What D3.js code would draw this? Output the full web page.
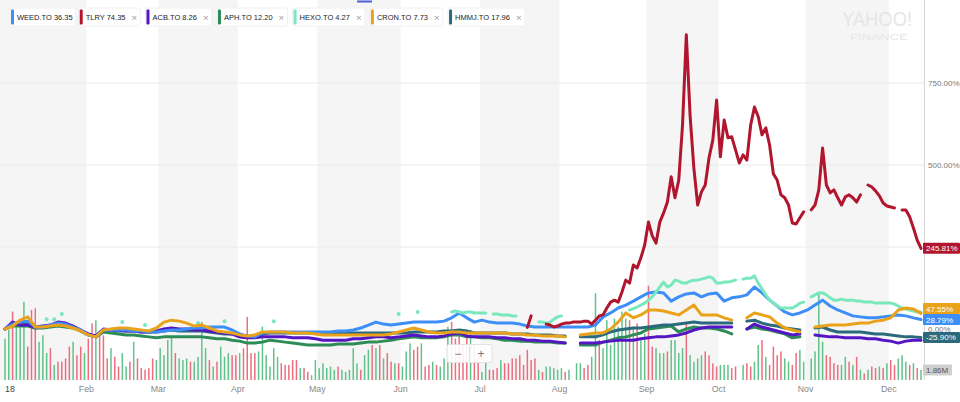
<!DOCTYPE html>
<html><head><meta charset="utf-8">
<script src="https://cdn.jsdelivr.net/npm/d3@7"></script>
<style>
html,body{margin:0;padding:0;background:#fff;}
svg{display:block;font-family:"Liberation Sans",Arial,Helvetica,sans-serif;}
</style></head><body>
<svg id="c" width="960" height="402"></svg>
<script>
// ---------- DATA ----------
const startDate = "2018-01-02", endDate = "2018-12-13";
const holidays = ["2018-01-01","2018-02-19","2018-03-30","2018-05-21","2018-07-02","2018-09-03"];
const monthLabels = ["18","Feb","Mar","Apr","May","Jun","Jul","Aug","Sep","Oct","Nov","Dec"];
const legendLabels = ["WEED.TO 36.35","TLRY 74.35","ACB.TO 8.26","APH.TO 12.20","HEXO.TO 4.27","CRON.TO 7.73","HMMJ.TO 17.96"];
const seriesColors = ["#3e8ef7","#b1162e","#5615c4","#2d8c55","#79e8bd","#e9a21a","#2b6a7d"];
const gridTicks = [250,500,750];
const axisLabelTicks = [0,500,750];

// % change, sampled every 2nd trading day (index 0,2,4,...,242)
const weedValues = [0,15,21,24,6,6,12,18,15,6,
-3,-18,-24,-3,-3,-3,-3,-6,-6,-9,
-9,-6,-3,-3,0,3,3,6,6,6,
-3,-15,-21,-24,-12,-9,-9,-9,-9,-9,
-9,-9,-9,-9,-6,-6,-3,3,12,21,
15,12,15,18,21,21,21,21,24,34,
49,34,21,27,21,18,18,18,15,9,
6,6,6,6,6,6,6,6,12,37,
49,64,73,85,98,110,113,110,85,98,
107,110,98,107,110,85,95,98,104,128,
110,88,70,52,43,49,58,73,88,70,
58,49,40,37,34,34,37,40,43,40,
34,28.79];
const acbValues = [0,21,12,12,6,9,12,21,18,9,
-3,-15,-21,0,-3,-3,-6,-6,-9,-9,
-6,0,3,0,0,-3,-3,-6,-9,-12,
-15,-24,-27,-27,-24,-24,-24,-24,-27,-27,
-27,-30,-34,-34,-34,-34,-30,-30,-27,-24,
-24,-27,-24,-21,-18,-21,-24,-24,-21,-15,
-12,-21,-24,-24,-24,-27,-27,-30,-30,-34,
-34,-37,-37,-40,-43,null,-43,-43,-43,-40,
-37,-34,-34,-34,-30,-27,-24,-24,-21,-18,
-12,-3,3,6,6,6,6,null,0,15,
6,0,-6,-12,-18,-15,null,-18,-21,-24,
-24,-27,-27,-27,-30,-30,-34,-37,-43,-37,
-34,-34];
const aphValues = [0,9,9,9,3,3,6,9,6,3,
-6,-18,-24,-9,-12,-15,-18,-18,-21,-24,
-27,-24,-24,-24,-24,-24,-24,-27,-30,-30,
-34,-37,-43,-43,-40,-34,-37,-40,-43,-46,
-49,-49,-49,-49,-46,-46,-46,-43,-40,-40,
-37,-34,-30,-27,-24,-27,-27,-27,-24,-18,
-18,-24,-24,-27,-27,-30,-34,-34,-37,-37,
-40,-40,-40,-43,-43,null,-49,-49,-49,-40,
-34,-27,-24,-18,-12,0,3,6,9,-9,
0,6,3,3,0,-6,-15,null,0,6,
0,-3,-9,-15,-27,-24,null,null,null,null,
null,null,null,null,null,null,null,null,null,null,
null,null];
const cronValues = [0,9,27,37,6,6,9,12,9,3,
-6,-18,-24,-3,0,3,3,0,-3,-6,
3,21,27,24,18,9,12,3,-6,-9,
-12,-18,-21,-18,-9,-9,-9,-9,-12,-12,
-12,-15,-18,-18,-18,-18,-18,-18,-18,-18,
-18,-15,-9,-3,3,-3,-9,-12,-12,-9,
-9,-12,-12,-12,-12,-12,-12,-15,-15,-18,
-18,-21,-21,-21,-24,null,-18,-15,-12,-12,
0,21,49,34,43,58,58,55,49,43,
58,73,43,43,43,34,27,null,34,49,
43,37,18,3,-3,-9,null,6,9,12,
12,12,15,18,18,24,27,34,58,64,
61,47.55];
const hmmjValues = [0,15,12,15,3,6,9,15,12,6,
-6,-18,-24,-3,-3,-6,-6,-6,-9,-9,
-9,-6,-3,-6,-6,-6,-6,-9,-12,-15,
-15,-24,-27,-24,-15,-12,-12,-12,-12,-12,
-12,-12,-12,-12,-12,-12,-12,-12,-12,-12,
-12,-12,-12,-12,-9,-9,-9,-9,-6,-6,
-3,-6,-12,-12,-12,-12,-12,-15,-15,-15,
-18,-18,-18,-21,-21,null,-24,-24,-24,-18,
-9,-3,0,3,3,6,9,12,12,15,
18,21,18,18,18,18,18,null,24,27,
18,12,9,3,0,-3,null,3,6,-3,
-9,-9,-9,-9,-12,-15,-15,-18,-21,-24,
-24,-25.9];
// TLRY: daily from trading-day index 138 (listing day)
const tlryStart = 138;
const tlryValues = [5,40,null,null,null,
15,12,6,9,15,18,18,21,21,21,
24,24,15,27,40,43,64,82,88,82,
113,149,140,195,186,217,256,326,284,262,
326,354,387,464,400,454,622,897,650,490,
378,418,439,522,576,698,525,637,583,586,
546,506,531,515,622,677,647,592,613,561,
473,454,409,400,378,323,320,339,357,null,
363,378,424,552,439,415,424,400,378,403,
409,400,387,409,null,439,433,421,406,384,
375,372,369,null,363,363,342,308,271,245.81];
// HEXO: sparse runs of consecutive trading days
const hexoStarts = [11,13,15,31,37,51,58,71,104,109,118,129,141,165,195,213];
const hexoRuns = [[30],[30],[46],[21],[12],[18],[24],[24],[46],[52],
 [52,55,52,49,52,52,49,49,49,49],
 [46,46,43,43,43,40,40],
 [21,21,18,21,30,37,40],
 [58,62,67,73,79,88,98,113,128,143,128,134,149,146,140,140,146,149,149,152,155,159,155,140,140,143,143,146,149],
 [152,155,155,162,140,122,104,88,79,70,64,64,64,64,70,79,82],
 [98,104,110,110,104,95,88,88,91,88,88,88,85,85,82,82,82,79,79,79,79,79,76,70,64,61,58,55,52,52]];
// Volume (millions), daily
const volumeValues = [7.7,9.3,12.7,10.2,10.5,14.5,6.2,13,13.3,7.1,
8.3,5,5.9,2.8,3.4,3.4,4,6.2,7.1,4.6,
6.2,5,7.7,10.5,11.1,8.6,8.3,4,5.9,4.3,
2.5,5,2.5,3.4,7.1,4,2.2,1.9,2.2,4,
3.7,5.9,4.6,7.4,8,5,4,3.7,4,3.4,
3.4,4.3,10.8,5.9,3.7,2.5,3.4,6.2,4.3,5,
4.6,4.6,5,5.9,11.7,5,5,5.3,9.9,4.6,
2.5,5.9,4.3,3.1,2.8,2.8,3.7,3.7,2.2,2.2,
1.5,0.9,3.7,2.2,3.1,2.2,2.5,1.9,2.5,1.9,
1.5,1.9,5.9,3.1,1.9,4.6,5.6,6.5,5.9,6.5,
4,5,3.4,3.1,3.1,2.5,5.3,6.8,5.6,6.2,
6.8,2.5,2.8,3.4,2.8,2.5,4,9.9,
10.8,7.7,8.6,6.5,8.6,9.3,6.5,4.3,1.5,3.4,
1.9,1.9,2.2,3.7,3.1,3.1,4,4,4.6,2.8,
5.6,3.7,4,1.9,1.5,2.5,2.5,2.2,1.9,2.2,
1.5,1.9,null,3.1,3.1,2.2,2.8,4.3,16.1,7.4,
5.9,11.1,6.5,11.4,9.9,12.7,11.4,11.1,9.9,10.5,
7.4,8.6,17.5,6.2,5.9,5,5,5.3,7.4,7.4,
5,5.9,10.5,4.6,3.4,4,4.6,5.3,4.6,3.1,
2.5,2.8,2.8,2.8,2.2,2.5,null,2.8,3.1,2.5,
3.4,6.5,7.4,4.3,2.8,6.2,4.6,5.3,4,3.4,
2.8,5,5.6,3.4,null,4,5.3,16.1,7.1,4.6,
4.3,3.1,2.8,2.8,4.3,3.4,2.8,4.3,1.9,1.2,
1.9,2.5,2.2,2.5,2.2,3.1,3.7,2.8,4,4.6,
3.4,2.8,3.1,2.2,1.86];
const volumeUpDown = "ggrgggrrrgggrgrrrrgrrgrrgrrrgrrggrgrrrrrgggggrgggrggggrgrgggrrgrrrrggggggrrrrrgrrgggggggrgggggrggrgrgrrgrgggrrgrrgrggg" +
  "rrrrrgrrggrrrgrrrrrrrrrgrgggggrggggrrggrgggggggrgrggrrgggrggggrggggrrrrgggrrggrrggrgrrrrggrrgggggggrrrrggrgrgrgrrgrgrrgggrgrg";
const endTags = [
  {series:1, value:245.81, text:"245.81%"},
  {series:5, value:47.55, text:"47.55%"},
  {series:0, value:28.79, text:"28.79%"},
  {series:6, value:-25.90, text:"-25.90%"}
];
const lastVolumeText = "1.86M";

// ---------- CHART ----------
const svg = d3.select("#c");
const fmt = d3.utcFormat("%Y-%m-%d");
const days = d3.utcDays(new Date(startDate+"T00:00:00Z"), new Date(endDate+"T12:00:00Z"))
  .filter(d => d.getUTCDay() % 6 !== 0 && !holidays.includes(fmt(d)));
const N = days.length;

const x = d3.scaleLinear().domain([0, N-1]).range([5, 921]);
const y = d3.scaleLinear().domain([0, 750]).range([329, 83]);
const yv = d3.scaleLinear().domain([0, 18]).range([380, 283]);
const axisX = 924, baseY = 380;

// month bands
const monthStarts = [];
days.forEach((d,i) => { if (i===0 || d.getUTCMonth() !== days[i-1].getUTCMonth()) monthStarts.push({i, m:d.getUTCMonth()}); });
const bands = svg.append("g");
monthStarts.forEach((ms,j) => {
  const x0 = j===0 ? 0 : x(ms.i-0.5);
  const x1 = j+1 < monthStarts.length ? x(monthStarts[j+1].i-0.5) : axisX;
  if (ms.m % 2 === 0) bands.append("rect").attr("x",x0).attr("y",0).attr("width",x1-x0).attr("height",baseY).attr("fill","#f5f5f5");
});

// watermark
svg.append("text").attr("x",842).attr("y",26).attr("font-size",21).attr("fill","#e6e6e6")
  .attr("textLength",70).attr("lengthAdjust","spacingAndGlyphs").text("YAHOO!");
svg.append("text").attr("x",850).attr("y",40).attr("font-size",9.5).attr("fill","#e6e6e6")
  .attr("textLength",58).attr("lengthAdjust","spacingAndGlyphs").text("FINANCE");

// gridlines
svg.append("g").selectAll("line").data(gridTicks).join("line")
  .attr("x1",0).attr("x2",axisX).attr("y1",d=>y(d)).attr("y2",d=>y(d))
  .attr("stroke","#ebebeb").attr("stroke-width",1);

// right axis line
svg.append("line").attr("x1",axisX+0.5).attr("x2",axisX+0.5).attr("y1",0).attr("y2",baseY).attr("stroke","#d6d6d6");

// y axis labels
const yAxis = svg.append("g").attr("transform",`translate(${axisX+3},0)`)
  .call(d3.axisRight(y).tickValues(axisLabelTicks).tickSize(0).tickPadding(1).tickFormat(d => d3.format(".2f")(d)+"%"));
yAxis.select(".domain").remove();
yAxis.selectAll("text").attr("font-size",8).attr("fill","#777").attr("font-family","Liberation Sans, Arial, sans-serif");

// month labels
svg.append("g").selectAll("text").data(monthStarts).join("text")
  .attr("x",(d,j)=> j===0 ? 5 : x(d.i-0.5))
  .attr("y",392).attr("text-anchor",(d,j)=> j===0 ? "start":"middle")
  .attr("font-size",8.8).attr("fill",(d,j)=> j===0 ? "#444":"#888")
  .text((d,j)=>monthLabels[j]);

// volume bars
const vol = volumeValues.map((v,i)=>({i, v, up: volumeUpDown[i] !== "r"})).filter(d=>d.v!=null);
svg.append("g").selectAll("rect").data(vol).join("rect")
  .attr("x",d=>x(d.i)-0.75).attr("width",1.5)
  .attr("y",d=>yv(d.v)).attr("height",d=>baseY-yv(d.v))
  .attr("fill",d=>d.up ? "#62c28b" : "#ec6e7e");

// lines
const line = d3.line().defined(d=>d.v!=null).x(d=>x(d.i)).y(d=>y(d.v));
const even = arr => arr.map((v,k)=>({i:2*k, v}));
const hexoDaily = d3.range(N).map(i=>({i, v:null}));
hexoStarts.forEach((s,r)=>hexoRuns[r].forEach((v,j)=>{ hexoDaily[s+j].v = v; }));
const tlryDaily = tlryValues.map((v,j)=>({i:tlryStart+j, v}));

const drawOrder = [
  {data: even(aphValues), c: seriesColors[3]},
  {data: even(hmmjValues), c: seriesColors[6]},
  {data: even(acbValues), c: seriesColors[2]},
  {data: even(weedValues), c: seriesColors[0]},
  {data: hexoDaily, c: seriesColors[4], dots:true},
  {data: even(cronValues), c: seriesColors[5]},
  {data: tlryDaily, c: seriesColors[1]}
];
const lg = svg.append("g");
drawOrder.forEach(s => {
  lg.append("path").datum(s.data).attr("d",line).attr("fill","none")
    .attr("stroke",s.c).attr("stroke-width",3).attr("stroke-linejoin","round").attr("stroke-linecap","round");
  if (s.dots) {
    const iso = s.data.filter((d,k)=>d.v!=null && (k===0 || s.data[k-1].v==null) && (k===s.data.length-1 || s.data[k+1].v==null));
    lg.selectAll(null).data(iso).join("circle").attr("cx",d=>x(d.i)).attr("cy",d=>y(d.v)).attr("r",2).attr("fill",s.c);
  }
});

// end tags (stacked so that neighbouring tags do not cover each other)
const tags = svg.append("g").attr("font-size",8);
const tagH = 11;
const placed = endTags.map(t => ({...t, yy: y(t.value)})).sort((a,b)=>b.yy-a.yy);
for (let k=1;k<placed.length;k++) {
  if (placed[k-1].yy - placed[k].yy < tagH) placed[k].yy = placed[k-1].yy - tagH;
}
placed.forEach(t => {
  tags.append("rect").attr("x",axisX-1).attr("y",t.yy-tagH/2).attr("width",37).attr("height",tagH).attr("rx",1).attr("fill",seriesColors[t.series]);
  tags.append("text").attr("x",axisX+2).attr("y",t.yy+3).attr("fill","#fff").text(t.text);
});
const lastVol = volumeValues[volumeValues.length-1];
tags.append("rect").attr("x",axisX-1).attr("y",yv(lastVol)-5.5).attr("width",29).attr("height",11).attr("rx",1).attr("fill","#cfcfcf");
tags.append("text").attr("x",axisX+2).attr("y",yv(lastVol)+3).attr("fill","#555").text(lastVolumeText);

// zoom control
const zc = svg.append("g");
zc.append("rect").attr("x",447).attr("y",344.5).attr("width",45).attr("height",18).attr("rx",2).attr("fill","#fff").attr("fill-opacity",0.9).attr("stroke","#e2e2e2");
zc.append("line").attr("x1",469.5).attr("x2",469.5).attr("y1",346).attr("y2",361).attr("stroke","#e2e2e2");
zc.append("text").attr("x",458).attr("y",357.5).attr("text-anchor","middle").attr("font-size",12).attr("fill","#777").text("−");
zc.append("text").attr("x",481).attr("y",357.5).attr("text-anchor","middle").attr("font-size",12).attr("fill","#777").text("+");

// top indicator
svg.append("rect").attr("x",357).attr("y",0.5).attr("width",15).attr("height",2).attr("fill","#4c5fd4");

// legend
const legend = svg.append("g").attr("font-size",7.5);
let lx = 11;
legendLabels.forEach((label,i) => {
  const g = legend.append("g");
  const bg = g.append("rect");
  g.append("rect").attr("x",lx).attr("y",9.5).attr("width",3).attr("height",15).attr("rx",1).attr("fill",seriesColors[i]);
  const t = g.append("text").attr("x",lx+6).attr("y",20).attr("fill","#222").text(label);
  let end = lx + 6 + t.node().getComputedTextLength();
  if (i>0) {
    g.append("text").attr("x",end+6).attr("y",20.5).attr("font-size",9.5).attr("fill","#9a9a9a").text("×");
    end += 6 + 6;
  }
  bg.attr("x",lx-1).attr("y",8).attr("width",end-lx+4).attr("height",18).attr("rx",2).attr("fill","#fff").attr("stroke","#f0f0f0");
  lx = end + (i===0 ? 7 : 9);
});
</script>
</body></html>
